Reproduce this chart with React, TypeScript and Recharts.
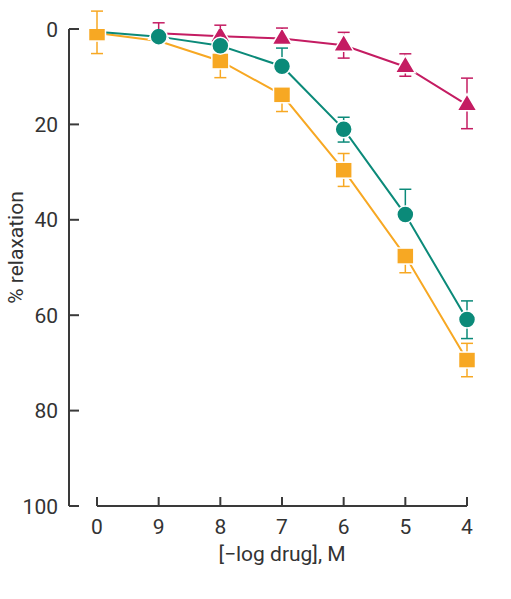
import { LineChart, Line, XAxis, YAxis, ErrorBar, ReferenceLine, Label } from 'recharts';

const ORANGE = '#F7A823';
const TEAL = '#0B8A79';
const MAGENTA = '#C41C62';
const AXIS = '#3a3a3a';
const FONT = 'Roboto, "Liberation Sans", sans-serif';

// x categories: -log molar concentration (0 = vehicle)
const doses = ['0', '9', '8', '7', '6', '5', '4'];

// mean % relaxation, error as [towards 0, towards 100]
const orangeMean = [0.85, 2.5, 6.7, 13.8, 29.6, 47.6, 69.4];
const orangeErr = [[4.6, 4.3], [0, 0], [0, 3.5], [0, 3.5], [3.5, 3.4], [0, 3.5], [3.5, 3.5]];

const tealMean = [0.6, 1.6, 3.5, 7.8, 21.0, 38.9, 60.9];
const tealErr = [[0, 0], [0, 0], [0, 0], [3.8, 0], [2.5, 2.7], [5.3, 0], [3.9, 4.0]];

const magentaMean = [null, 0.9, 1.5, 2.0, 3.4, 7.9, 15.9];
const magentaErr = [[0, 0], [2.2, 0], [2.3, 0], [2.2, 0], [2.7, 2.7], [2.7, 2.0], [5.6, 5.0]];

// markers that the figure leaves out where they would overlap
const orangeHidden = [1];
const tealHidden = [0];

const yTicks = [0, 20, 40, 60, 80, 100];

const data = doses.map((d, i) => ({
  dose: d,
  orange: orangeMean[i],
  orangeErr: orangeErr[i],
  teal: tealMean[i],
  tealErr: tealErr[i],
  magenta: magentaMean[i],
  magentaErr: magentaErr[i],
}));

const SquareDot = (props: any) => {
  const { cx, cy, index } = props;
  if (orangeHidden.includes(index) || cx == null || cy == null) return <g key={`sq-${index}`} />;
  return <rect key={`sq-${index}`} x={cx - 8.5} y={cy - 8} width={17} height={16} fill={ORANGE} stroke="#fff" strokeWidth={1.5} />;
};

const CircleDot = (props: any) => {
  const { cx, cy, index } = props;
  if (tealHidden.includes(index) || cx == null || cy == null) return <g key={`ci-${index}`} />;
  return <circle key={`ci-${index}`} cx={cx} cy={cy} r={8.5} fill={TEAL} stroke="#fff" strokeWidth={1.5} />;
};

const TriangleDot = (props: any) => {
  const { cx, cy, index } = props;
  if (cx == null || cy == null) return <g key={`tr-${index}`} />;
  const pts = `${cx},${cy - 11} ${cx - 10},${cy + 6} ${cx + 10},${cy + 6}`;
  return <polygon key={`tr-${index}`} points={pts} fill={MAGENTA} stroke="#fff" strokeWidth={1.5} />;
};

const XTick = (props: any) => {
  const { x, y, payload } = props;
  return (
    <g>
      <line x1={x} y1={y} x2={x} y2={y - 9} stroke={AXIS} strokeWidth={2} />
      <text x={x} y={y + 28} textAnchor="middle" fill="#333" fontSize={21} fontFamily={FONT}>
        {payload.value}
      </text>
    </g>
  );
};

const YTick = (props: any) => {
  const { x, y, payload } = props;
  return (
    <g>
      <line x1={x} y1={y} x2={x + 10} y2={y} stroke={AXIS} strokeWidth={2} />
      <text x={x - 11} y={y + 7.5} textAnchor="end" fill="#333" fontSize={21} fontFamily={FONT}>
        {payload.value}
      </text>
    </g>
  );
};

export default function App() {
  return (
    <div style={{ position: 'absolute', left: 0, top: 0, width: 511, height: 599, background: '#fff' }}>
      <LineChart width={511} height={599} data={data} margin={{ top: 29, right: 44, bottom: 33, left: 0 }}>
        <XAxis
          dataKey="dose"
          scale="point"
          padding={{ left: 28, right: 0 }}
          axisLine={false}
          tickLine={false}
          tickSize={0}
          tickMargin={0}
          tick={<XTick />}
          height={60}
          interval={0}
        >
          <Label value="[−log drug], M" position="center" dx={14} dy={18} fill="#333" fontSize={21} fontFamily={FONT} />
        </XAxis>
        <YAxis
          reversed
          domain={[0, 100]}
          allowDataOverflow
          ticks={yTicks}
          width={69}
          axisLine={{ stroke: AXIS, strokeWidth: 2 }}
          tickLine={false}
          tickSize={0}
          tickMargin={0}
          tick={<YTick />}
          interval={0}
        >
          <Label value="% relaxation" angle={-90} position="center" dx={-18.5} dy={-20} fill="#333" fontSize={21} fontFamily={FONT} />
        </YAxis>
        <ReferenceLine
          segment={[{ x: doses[0], y: 100 }, { x: doses[doses.length - 1], y: 100 }]}
          stroke={AXIS}
          strokeWidth={2}
          ifOverflow="visible"
        />
        <Line dataKey="magenta" stroke={MAGENTA} strokeWidth={2} dot={TriangleDot} activeDot={false} isAnimationActive={false}>
          <ErrorBar dataKey="magentaErr" width={6} stroke={MAGENTA} strokeWidth={1.5} direction="y" isAnimationActive={false} />
        </Line>
        <Line dataKey="orange" stroke={ORANGE} strokeWidth={2} dot={SquareDot} activeDot={false} isAnimationActive={false}>
          <ErrorBar dataKey="orangeErr" width={6} stroke={ORANGE} strokeWidth={1.5} direction="y" isAnimationActive={false} />
        </Line>
        <Line dataKey="teal" stroke={TEAL} strokeWidth={2} dot={CircleDot} activeDot={false} isAnimationActive={false}>
          <ErrorBar dataKey="tealErr" width={6} stroke={TEAL} strokeWidth={1.5} direction="y" isAnimationActive={false} />
        </Line>
      </LineChart>
    </div>
  );
}
